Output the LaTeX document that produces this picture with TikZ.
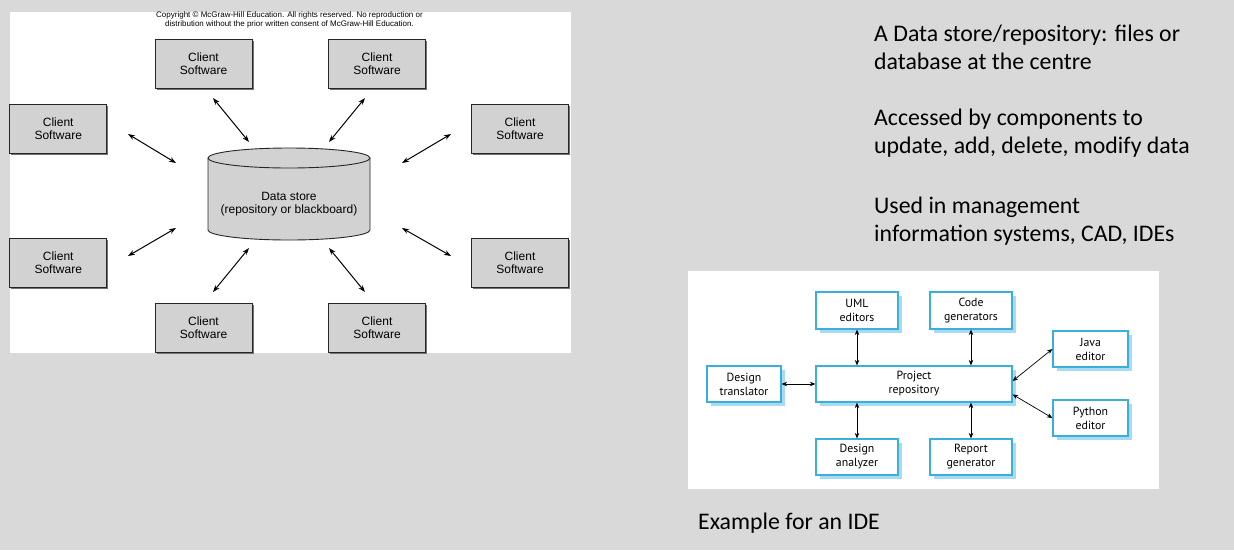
\documentclass[tikz,border=0pt]{standalone}
\usepackage{fontspec}
\setmainfont{Carlito}
\newfontfamily\arialf{Liberation Sans}
\newfontfamily\ptf{PT Sans}
\usetikzlibrary{arrows.meta,shadows,calc}
\definecolor{bggray}{HTML}{D9D9D9}
\definecolor{boxgray}{HTML}{D2D2D2}
\definecolor{ideblue}{HTML}{3AAFDB}
\definecolor{ideshadow}{HTML}{A6DBF2}
\begin{document}
\begin{tikzpicture}[x=1pt,y=-1pt,
 cbox/.style={draw=black!85, line width=0.9pt, fill=boxgray, minimum width=97pt, minimum height=49pt, inner sep=0pt, align=center, font=\arialf\fontsize{12}{13}\selectfont, drop shadow={shadow xshift=1.6pt, shadow yshift=-1.6pt, fill=black!55, opacity=1}},
 darr/.style={{Stealth[length=7pt,width=5pt]}-{Stealth[length=7pt,width=5pt]}, line width=1pt},
 ibox/.style={draw=ideblue, line width=1.2pt, fill=white, inner sep=0pt, align=center, font=\ptf\fontsize{11.8}{14}\selectfont, drop shadow={shadow xshift=3.5pt, shadow yshift=-3.5pt, fill=ideshadow, opacity=1}},
 iarr/.style={{Stealth[length=5.5pt,width=4.5pt]}-{Stealth[length=5.5pt,width=4.5pt]}, line width=0.7pt},
 rtext/.style={anchor=base west, inner sep=0pt, font=\fontsize{23.8}{28.5}\selectfont, text=black}
]
\fill[bggray] (0,0) rectangle (1234,550);
\useasboundingbox (0,0) rectangle (1234,550);
\fill[white] (10,12) rectangle (571,353);
\fill[white] (688,271) rectangle (1159,489);

% ---------- left diagram ----------
\node[font=\arialf\fontsize{8}{9.7}\selectfont, align=center, inner sep=0pt] (copy) at (289.5,20) {Copyright \textcopyright{} McGraw-Hill Education. All rights reserved. No reproduction or\\distribution without the prior written consent of McGraw-Hill Education.};

\node[cbox] (c1) at (203.5,63.5) {Client\\Software};
\node[cbox] (c2) at (377,63.5) {Client\\Software};
\node[cbox] (c3) at (58.25,128.5) {Client\\Software};
\node[cbox] (c4) at (520,128.5) {Client\\Software};
\node[cbox] (c5) at (58.25,262.5) {Client\\Software};
\node[cbox] (c6) at (520,262.5) {Client\\Software};
\node[cbox] (c7) at (203.5,327.5) {Client\\Software};
\node[cbox] (c8) at (377,327.5) {Client\\Software};

\path[fill=boxgray, draw=black!85, line width=0.9pt] (208,158) -- (208,230) arc[start angle=180, end angle=0, x radius=81, y radius=10] -- (370,158);
\path[fill=boxgray, draw=black!85, line width=0.9pt] (289,158) ellipse[x radius=81, y radius=10];
\node[font=\arialf\fontsize{12}{13}\selectfont, align=center, inner sep=0pt] (ds) at (289,204.5) {Data store\\(repository or blackboard)};

\coordinate (a1s) at (213,98);  \coordinate (a1e) at (249,142);
\coordinate (a2s) at (365,98);  \coordinate (a2e) at (329,142);
\coordinate (a3s) at (128,134); \coordinate (a3e) at (176,163);
\coordinate (a4s) at (451,134); \coordinate (a4e) at (402,163);
\coordinate (a5s) at (176,228); \coordinate (a5e) at (128,256);
\coordinate (a6s) at (402,228); \coordinate (a6e) at (451,256);
\coordinate (a7s) at (249,248); \coordinate (a7e) at (213,292);
\coordinate (a8s) at (329,248); \coordinate (a8e) at (365,292);
\foreach \i in {1,...,8} {\draw[darr] (a\i s) -- (a\i e);}

% ---------- right text ----------
\node[rtext] (t1) at (874,41) {A Data store/repository: files or};
\node[rtext] (t2) at (874,69.5) {database at the centre};
\node[rtext] (t3) at (874,125) {Accessed by components to};
\node[rtext] (t4) at (874,153.5) {update, add, delete, modify data};
\node[rtext] (t5) at (874,213) {Used in management};
\node[rtext] (t6) at (874,241.5) {information systems, CAD, IDEs};
\node[rtext] (cap) at (698,529) {Example for an IDE};

% ---------- IDE diagram ----------
\node[ibox, minimum width=82pt, minimum height=37pt] (uml) at (857,310.5) {UML\\editors};
\node[ibox, minimum width=82pt, minimum height=37pt] (code) at (971,310.5) {Code\\generators};
\node[ibox, minimum width=75pt, minimum height=36pt] (java) at (1090.5,349) {Java\\editor};
\node[ibox, minimum width=74pt, minimum height=36pt] (dt) at (744,384) {Design\\translator};
\node[ibox, minimum width=196pt, minimum height=36pt] (proj) at (914,384) {Project\\repository};
\node[ibox, minimum width=75pt, minimum height=36pt] (py) at (1090.5,418) {Python\\editor};
\node[ibox, minimum width=82pt, minimum height=36pt] (da) at (857,457) {Design\\analyzer};
\node[ibox, minimum width=82pt, minimum height=36pt] (rg) at (971,457) {Report\\generator};

\draw[iarr] (uml.south) -- (uml.south |- proj.north);
\draw[iarr] (code.south) -- (code.south |- proj.north);
\draw[iarr] (dt.east) -- (proj.west);
\draw[iarr] ($(proj.north east)!0.42!(proj.south east)$) -- (java.west);
\draw[iarr] ($(proj.north east)!0.78!(proj.south east)$) -- (py.west);
\draw[iarr] (da.north |- proj.south) -- (da.north);
\draw[iarr] (rg.north |- proj.south) -- (rg.north);
\end{tikzpicture}
\end{document}
